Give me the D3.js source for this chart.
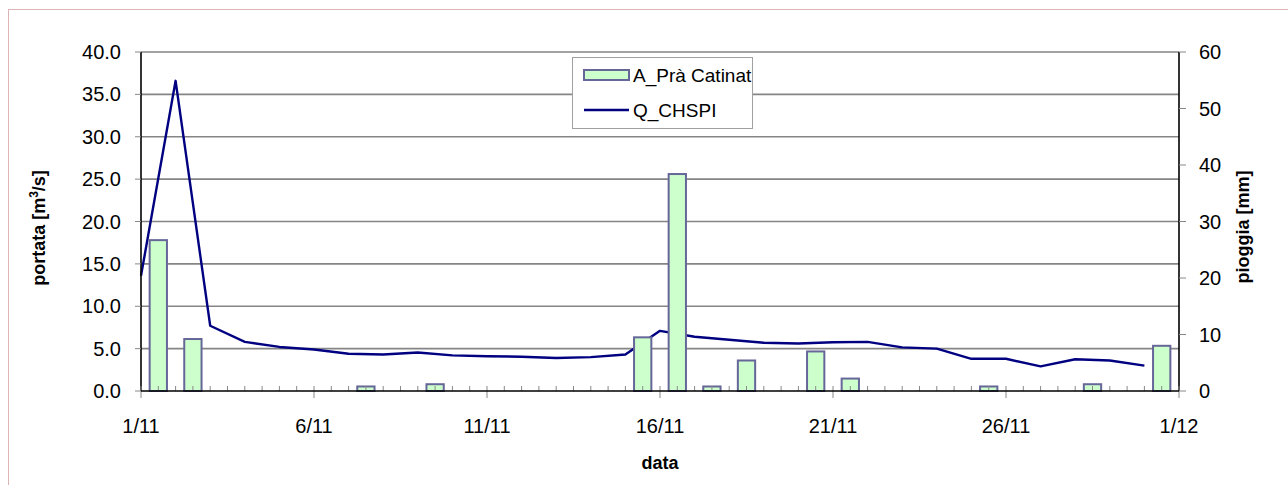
<!DOCTYPE html>
<html>
<head>
<meta charset="utf-8">
<script src="https://cdn.jsdelivr.net/npm/d3@7"></script>
<style>
  html, body { margin: 0; padding: 0; background: #fff; }
  svg { display: block; }
  text { font-family: "Liberation Sans", Arial, sans-serif; fill: #000; }
</style>
</head>
<body>
<svg id="chart" width="1288" height="485"></svg>
<script>
// ---- data ----
const days = ["1/11","2/11","3/11","4/11","5/11","6/11","7/11","8/11","9/11","10/11",
              "11/11","12/11","13/11","14/11","15/11","16/11","17/11","18/11","19/11","20/11",
              "21/11","22/11","23/11","24/11","25/11","26/11","27/11","28/11","29/11","30/11"];
const rain = [26.7, 9.2, 0, 0, 0, 0, 0.8, 0, 1.2, 0,
              0, 0, 0, 0, 9.5, 38.4, 0.8, 5.4, 0, 7.0,
              2.2, 0, 0, 0, 0.8, 0, 0, 1.2, 0, 8.0];
const flow = [13.6, 36.6, 7.7, 5.8, 5.2, 4.9, 4.4, 4.3, 4.55, 4.2,
              4.1, 4.05, 3.9, 4.0, 4.3, 7.1, 6.4, 6.05, 5.7, 5.6,
              5.75, 5.8, 5.15, 5.0, 3.8, 3.8, 2.9, 3.75, 3.6, 3.0];
const xTickLabels = ["1/11","6/11","11/11","16/11","21/11","26/11","1/12"];
const leftTicks = [0, 5, 10, 15, 20, 25, 30, 35, 40];
const rightTicks = [0, 10, 20, 30, 40, 50, 60];
const seriesNames = ["A_Prà Catinat", "Q_CHSPI"];

// ---- layout ----
const L = 141, R = 1179, T = 52, B = 391;
const svg = d3.select("#chart");

svg.append("rect").attr("x", 8.5).attr("y", 9.5).attr("width", 1300).attr("height", 500)
  .attr("fill", "#fff").attr("stroke", "#dcb4b4").attr("stroke-width", 1);

const x = d3.scaleLinear().domain([0, days.length]).range([L, R]);
const yL = d3.scaleLinear().domain([0, 40]).range([B, T]);
const yR = d3.scaleLinear().domain([0, 60]).range([B, T]);

// gridlines
svg.append("g").selectAll("line").data(leftTicks.filter(d => d > 0)).join("line")
  .attr("x1", L).attr("x2", R)
  .attr("y1", d => yL(d)).attr("y2", d => yL(d))
  .attr("stroke", "#858585").attr("stroke-width", 1.6);

// line (primary axis)
const line = d3.line().x((d, i) => x(i)).y(d => yL(d));
svg.append("path").datum(flow).attr("d", line)
  .attr("fill", "none").attr("stroke", "#000080").attr("stroke-width", 2.4)
  .attr("stroke-linejoin", "round");

// bars (secondary axis)
svg.append("g").selectAll("rect").data(rain.map((v, i) => ({v, i})).filter(d => d.v > 0)).join("rect")
  .attr("x", d => x(d.i + 0.25)).attr("width", d => x(d.i + 0.75) - x(d.i + 0.25))
  .attr("y", d => yR(d.v)).attr("height", d => B - yR(d.v))
  .attr("fill", "#ccffcc").attr("stroke", "#666699").attr("stroke-width", 2);

// axes
const tickColor = "#888";
// left axis
const gL = svg.append("g");
gL.append("line").attr("x1", L).attr("x2", L).attr("y1", T).attr("y2", B).attr("stroke", "#000").attr("stroke-width", 1.6);
gL.selectAll("line.t").data(leftTicks).join("line").attr("class", "t")
  .attr("x1", L - 6).attr("x2", L).attr("y1", d => yL(d)).attr("y2", d => yL(d))
  .attr("stroke", tickColor).attr("stroke-width", 1);
gL.selectAll("text").data(leftTicks).join("text")
  .attr("x", 121).attr("y", d => yL(d) + 7).attr("text-anchor", "end")
  .attr("font-size", 20).text(d => d.toFixed(1));

// right axis
const gR = svg.append("g");
gR.append("line").attr("x1", R).attr("x2", R).attr("y1", T).attr("y2", B).attr("stroke", "#000").attr("stroke-width", 1.6);
gR.selectAll("line.t").data(rightTicks).join("line").attr("class", "t")
  .attr("x1", R).attr("x2", R + 7).attr("y1", d => yR(d)).attr("y2", d => yR(d))
  .attr("stroke", tickColor).attr("stroke-width", 1);
gR.selectAll("text").data(rightTicks).join("text")
  .attr("x", 1199).attr("y", d => yR(d) + 7).attr("text-anchor", "start")
  .attr("font-size", 20).text(d => d);

// bottom axis
const gB = svg.append("g");
const halfTicks = d3.range(0, days.length * 2 + 1).map(k => k / 2);
gB.selectAll("line.m").data(halfTicks.filter(d => d % 5 !== 0)).join("line").attr("class", "m")
  .attr("x1", d => x(d)).attr("x2", d => x(d)).attr("y1", B - 5).attr("y2", B)
  .attr("stroke", tickColor).attr("stroke-width", 1);
const majors = d3.range(0, days.length + 1, 5);
gB.selectAll("line.M").data(majors).join("line").attr("class", "M")
  .attr("x1", d => x(d)).attr("x2", d => x(d)).attr("y1", B - 5).attr("y2", B + 7)
  .attr("stroke", tickColor).attr("stroke-width", 1);
gB.append("line").attr("x1", L).attr("x2", R).attr("y1", B).attr("y2", B).attr("stroke", "#000").attr("stroke-width", 1.6);
gB.selectAll("text").data(majors).join("text")
  .attr("x", d => x(d)).attr("y", 433).attr("text-anchor", "middle")
  .attr("font-size", 20).text((d, i) => xTickLabels[i]);

// axis titles
svg.append("text").attr("x", (L + R) / 2).attr("y", 469).attr("text-anchor", "middle")
  .attr("font-size", 18).attr("font-weight", "bold").text("data");
const tl = svg.append("text").attr("transform", "translate(45,228) rotate(-90)")
  .attr("text-anchor", "middle").attr("font-size", 18).attr("font-weight", "bold");
tl.append("tspan").text("portata [m");
tl.append("tspan").attr("font-size", 12).attr("dy", -7).text("3");
tl.append("tspan").attr("dy", 7).text("/s]");
svg.append("text").attr("transform", "translate(1249,227) rotate(-90)")
  .attr("text-anchor", "middle").attr("font-size", 18).attr("font-weight", "bold")
  .text("pioggia [mm]");

// legend
const lg = svg.append("g");
lg.append("rect").attr("x", 572.5).attr("y", 57.5).attr("width", 180).attr("height", 71)
  .attr("fill", "#fff").attr("stroke", "#a0a0a0").attr("stroke-width", 1);
lg.append("rect").attr("x", 584).attr("y", 70).attr("width", 45).attr("height", 10)
  .attr("fill", "#ccffcc").attr("stroke", "#666699").attr("stroke-width", 2);
lg.append("text").attr("x", 633).attr("y", 82).attr("font-size", 19).text(seriesNames[0]);
lg.append("line").attr("x1", 584).attr("x2", 629).attr("y1", 110).attr("y2", 110)
  .attr("stroke", "#000080").attr("stroke-width", 2.4);
lg.append("text").attr("x", 633).attr("y", 117).attr("font-size", 19).text(seriesNames[1]);
</script>
</body>
</html>
